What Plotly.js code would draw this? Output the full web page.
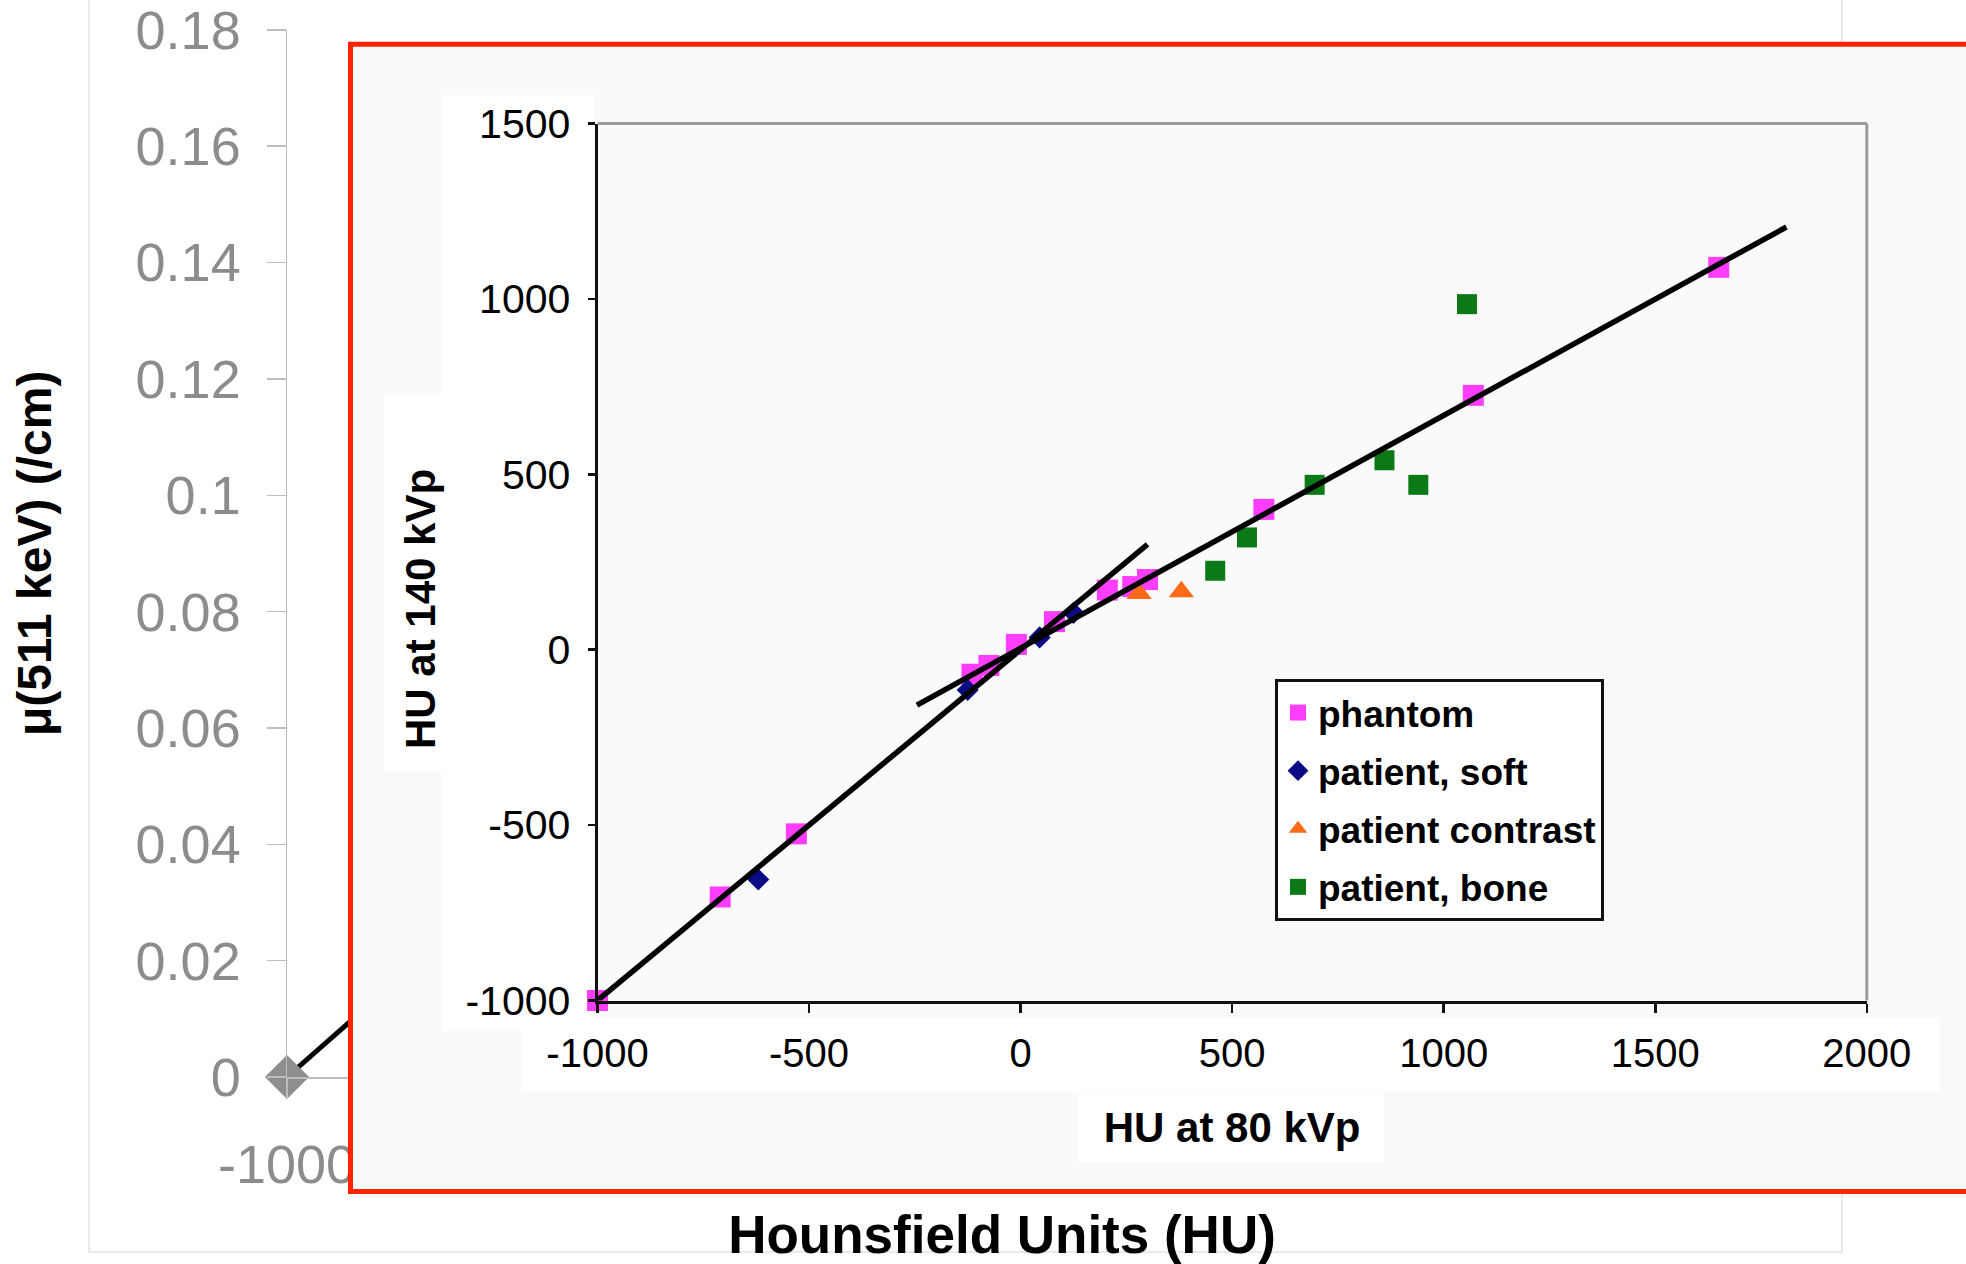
<!DOCTYPE html>
<html>
<head>
<meta charset="utf-8">
<script src="https://cdn.plot.ly/plotly-3.0.1.min.js"></script>
<style>
  html, body { margin: 0; padding: 0; background: #ffffff; }
  #chart { width: 1966px; height: 1264px; }
</style>
</head>
<body>
<div id="chart"></div>
<script>
// ---------------- Background chart: mu(511 keV) vs HU ----------------
var bgHU = [-1000, 0];
var bgMu = [0, 0.096];
var bgYTickVals = [0, 0.02, 0.04, 0.06, 0.08, 0.1, 0.12, 0.14, 0.16, 0.18];
var bgYTickText = ['0', '0.02', '0.04', '0.06', '0.08', '0.1', '0.12', '0.14', '0.16', '0.18'];
var bgXTickVals = [-1000, 0, 1000];
var bgXTickText = ['-1000', '0', '1000'];

// ---------------- Inset chart: HU at 140 kVp vs HU at 80 kVp ----------------
var phantomX = [-1000, -710, -530, -115, -75, -10, 80, 205, 265, 300, 575, 1070, 1650];
var phantomY = [-1000, -705, -525, -70, -45, 15, 80, 170, 180, 200, 400, 725, 1090];
var softX = [-620, -125, 45, 125];
var softY = [-655, -115, 35, 105];
var contrastX = [280, 380];
var contrastY = [160, 165];
var boneX = [460, 535, 695, 860, 940, 1055];
var boneY = [225, 320, 470, 540, 470, 985];
// bilinear fit segments
var fitLowX = [-1000, 300];
var fitLowY = [-1000, 300];
var fitHighX = [-245, 1810];
var fitHighY = [-158, 1205];

var insetXTicks = [-1000, -500, 0, 500, 1000, 1500, 2000];
var insetXTickText = ['-1000', '-500', '0', '500', '1000', '1500', '2000'];
var insetYTicks = [-1000, -500, 0, 500, 1000, 1500];
var insetYTickText = ['-1000', '-500', '0', '500', '1000', '1500'];

var FONT = 'Arial, "Liberation Sans", Helvetica, sans-serif';
var W = 1966, H = 1264;

var traces = [
  // background series
  {
    type: 'scatter', mode: 'lines+markers', x: bgHU, y: bgMu, xaxis: 'x', yaxis: 'y',
    line: {color: '#000000', width: 5},
    marker: {symbol: 'diamond', size: 34, color: '#8e8e8e'},
    cliponaxis: false, showlegend: false, hoverinfo: 'skip'
  },
  // empty trace that creates the inset-frame subplot
  {
    type: 'scatter', mode: 'markers', x: [], y: [], xaxis: 'x2', yaxis: 'y2',
    showlegend: false, hoverinfo: 'skip'
  },
  {
    type: 'scatter', mode: 'markers', name: 'phantom', x: phantomX, y: phantomY,
    xaxis: 'x3', yaxis: 'y3', legendgroup: 'g1',
    marker: {symbol: 'square', size: 21, color: '#ff3dff'}, cliponaxis: false
  },
  {
    type: 'scatter', mode: 'markers', name: 'patient, soft', x: softX, y: softY,
    xaxis: 'x3', yaxis: 'y3', legendgroup: 'g2',
    marker: {symbol: 'diamond', size: 17, color: '#0b0b85'}
  },
  {
    type: 'scatter', mode: 'markers', name: 'patient contrast', x: contrastX, y: contrastY,
    xaxis: 'x3', yaxis: 'y3', legendgroup: 'g3',
    marker: {symbol: 'triangle-up', size: 22, color: '#ff6a16'}
  },
  {
    type: 'scatter', mode: 'markers', name: 'patient, bone', x: boneX, y: boneY,
    xaxis: 'x3', yaxis: 'y3', legendgroup: 'g4',
    marker: {symbol: 'square', size: 20, color: '#0b7a16'}
  },
  {
    type: 'scatter', mode: 'lines', x: fitLowX, y: fitLowY, xaxis: 'x3', yaxis: 'y3',
    line: {color: '#000000', width: 5.5}, showlegend: false, hoverinfo: 'skip', cliponaxis: false
  },
  {
    type: 'scatter', mode: 'lines', x: fitHighX, y: fitHighY, xaxis: 'x3', yaxis: 'y3',
    line: {color: '#000000', width: 5.5}, showlegend: false, hoverinfo: 'skip', cliponaxis: false
  }
];

// decorative boxes of the pasted inset (page pixels, top-left origin)
function pageBox(x0, top, x1, bottom, fill, lineColor, lineWidth) {
  return {
    type: 'rect', xref: 'x2', yref: 'y2', layer: 'below',
    x0: x0, x1: x1, y0: H - bottom, y1: H - top,
    fillcolor: fill, line: {color: lineColor || 'rgba(0,0,0,0)', width: lineWidth || 0}
  };
}

var shapes = [
  // outer light frame of the background chart
  {type: 'rect', xref: 'paper', yref: 'paper', layer: 'below',
   x0: 89 / W, x1: 1842 / W, y0: 1 - 1252 / H, y1: 1.02,
   fillcolor: 'rgba(0,0,0,0)', line: {color: '#e2e2e2', width: 1.5}},
  // inset panel with red border
  pageBox(350.5, 44.3, 2100, 1191.5, '#fafafa', '#ff2400', 5),
  // white label patches
  pageBox(442, 95, 594, 1031, '#ffffff'),
  pageBox(384, 393, 442, 772, '#ffffff'),
  pageBox(522, 1018, 1940, 1092, '#ffffff'),
  pageBox(1077, 1093, 1384, 1162, '#ffffff'),
  // top and right frame lines of inset plot
  {type: 'line', xref: 'x3 domain', yref: 'y3 domain', layer: 'above',
   x0: 0, x1: 1, y0: 1, y1: 1, line: {color: '#9c9c9c', width: 3}},
  {type: 'line', xref: 'x3 domain', yref: 'y3 domain', layer: 'above',
   x0: 1, x1: 1, y0: 0, y1: 1, line: {color: '#9c9c9c', width: 3}}
];

var layout = {
  width: W, height: H,
  margin: {l: 0, r: 0, t: 0, b: 0},
  paper_bgcolor: '#ffffff',
  plot_bgcolor: 'rgba(0,0,0,0)',
  font: {family: FONT, color: '#000000'},
  showlegend: true,
  xaxis: {
    domain: [287 / W, 1717 / W], range: [-1000, 1250], anchor: 'y',
    showline: true, linecolor: '#bdbdbd', linewidth: 1.5,
    ticks: 'outside', ticklen: 19, tickcolor: '#bdbdbd', tickwidth: 1.5,
    tickvals: bgXTickVals, ticktext: bgXTickText, ticklabelstandoff: 21,
    ticklabeloverflow: 'allow',
    tickfont: {size: 54, color: '#8c8c8c', family: FONT},
    showgrid: false, zeroline: false, automargin: false, fixedrange: true,
    title: {text: 'Hounsfield Units (HU)', standoff: 31,
            font: {size: 53, weight: 'bold', color: '#000000', family: FONT}}
  },
  yaxis: {
    domain: [1 - 1077 / H, 1 - 29.6 / H], range: [0, 0.18005], anchor: 'x',
    showline: true, linecolor: '#bdbdbd', linewidth: 1.5,
    ticks: 'outside', ticklen: 19, tickcolor: '#bdbdbd', tickwidth: 1.5,
    tickvals: bgYTickVals, ticktext: bgYTickText, ticklabelstandoff: 15,
    ticklabeloverflow: 'allow',
    tickfont: {size: 54, color: '#8c8c8c', family: FONT},
    showgrid: false, zeroline: false, automargin: false, fixedrange: true,
    title: {text: 'μ(511 keV) (/cm)', standoff: 69,
            font: {size: 48, weight: 'bold', color: '#000000', family: FONT}}
  },
  xaxis2: {
    domain: [346 / W, 1], range: [346, W], anchor: 'y2', visible: false, fixedrange: true
  },
  yaxis2: {
    domain: [(H - 1196) / H, (H - 40) / H], range: [H - 1196, H - 40], anchor: 'x2',
    visible: false, fixedrange: true
  },
  xaxis3: {
    domain: [597.5 / W, 1866.8 / W], range: [-1000, 2000], anchor: 'y3',
    showline: true, linecolor: '#111111', linewidth: 3,
    ticks: 'outside', ticklen: 9, tickwidth: 2.5, tickcolor: '#111111',
    tickvals: insetXTicks, ticktext: insetXTickText, ticklabelstandoff: 6,
    ticklabeloverflow: 'allow',
    tickfont: {size: 40, color: '#000000', family: FONT},
    showgrid: false, zeroline: false, automargin: false, fixedrange: true,
    title: {text: 'HU at 80 kVp', standoff: 40,
            font: {size: 42, weight: 'bold', color: '#000000', family: FONT}}
  },
  yaxis3: {
    domain: [1 - 1000.5 / H, 1 - 123.5 / H], range: [-1000, 1500], anchor: 'x3',
    showline: true, linecolor: '#111111', linewidth: 3,
    ticks: 'outside', ticklen: 7, tickwidth: 2.5, tickcolor: '#111111',
    tickvals: insetYTicks, ticktext: insetYTickText, ticklabelstandoff: 9,
    ticklabeloverflow: 'allow',
    tickfont: {size: 41, color: '#000000', family: FONT},
    showgrid: false, zeroline: false, automargin: false, fixedrange: true
  },
  legend: {
    x: 1275 / W, y: 1 - 679 / H, xanchor: 'left', yanchor: 'top',
    bgcolor: '#ffffff', bordercolor: '#111111', borderwidth: 3,
    font: {size: 37, weight: 'bold', color: '#000000', family: FONT},
    traceorder: 'grouped', tracegroupgap: 7, itemsizing: 'trace'
  },
  annotations: [
    {text: 'HU at 140 kVp', xref: 'paper', yref: 'paper',
     x: 420.5 / W, y: 1 - 609.5 / H, xanchor: 'center', yanchor: 'middle',
     textangle: -90, showarrow: false,
     font: {size: 42, weight: 'bold', color: '#000000', family: FONT}}
  ],
  shapes: shapes
};

Plotly.newPlot('chart', traces, layout, {staticPlot: true, displayModeBar: false});
</script>
</body>
</html>
